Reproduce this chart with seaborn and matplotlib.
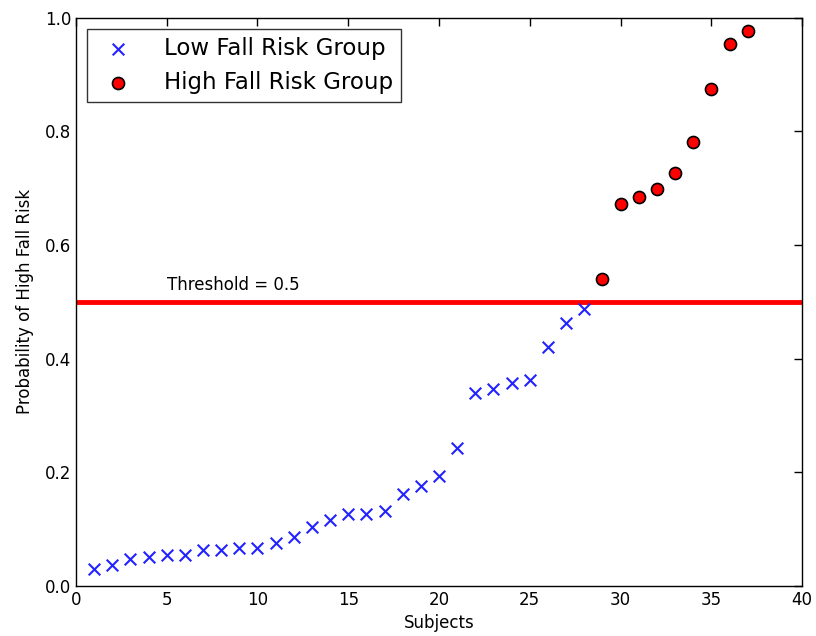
import numpy as np
import pandas as pd
import seaborn as sns
import matplotlib.pyplot as plt

# values
low_subj = list(range(1, 29))
low_prob = [0.030, 0.037, 0.047, 0.051, 0.054, 0.054, 0.063, 0.063, 0.067, 0.067,
            0.076, 0.086, 0.103, 0.115, 0.127, 0.127, 0.131, 0.162, 0.176, 0.194,
            0.243, 0.340, 0.347, 0.357, 0.362, 0.420, 0.462, 0.487]
high_subj = list(range(29, 38))
high_prob = [0.540, 0.672, 0.685, 0.699, 0.726, 0.781, 0.874, 0.954, 0.976]
threshold = 0.5

sns.set_style('white')
plt.rcParams['font.family'] = ['DejaVu Sans']
plt.rcParams['text.color'] = 'black'
plt.rcParams['axes.labelcolor'] = 'black'
plt.rcParams['xtick.color'] = 'black'
plt.rcParams['ytick.color'] = 'black'

fig = plt.figure(figsize=(8.16, 6.36), dpi=100)
ax = fig.add_axes([0.093, 0.079, 0.890, 0.893])

df_low = pd.DataFrame({'Subjects': low_subj, 'prob': low_prob})
df_high = pd.DataFrame({'Subjects': high_subj, 'prob': high_prob})

sns.scatterplot(data=df_low, x='Subjects', y='prob', marker='x', color='#2222ff',
                s=70, linewidth=1.5, label='Low Fall Risk Group', ax=ax, zorder=3)
sns.scatterplot(data=df_high, x='Subjects', y='prob', marker='o', color='red',
                edgecolor='black', linewidth=1.2, s=75, label='High Fall Risk Group',
                ax=ax, zorder=3)

ax.axhline(threshold, color='red', linewidth=3.5, zorder=2)
ax.text(5, threshold + 0.02, 'Threshold = 0.5', fontsize=12)

ax.set_xlim(0, 40)
ax.set_ylim(0, 1.0)
ax.set_xticks(np.arange(0, 41, 5))
ax.set_yticks(np.arange(0, 1.01, 0.2))
ax.set_xlabel('Subjects', fontsize=12)
ax.set_ylabel('Probability of High Fall Risk', fontsize=12, labelpad=8)
ax.tick_params(direction='in', top=True, right=True, labelsize=12, length=6, width=1)
for sp in ax.spines.values():
    sp.set_color('black')
    sp.set_linewidth(1)

leg = ax.legend(loc='upper left', fontsize=16.5, frameon=True, fancybox=False,
                borderpad=0.35, handletextpad=1.0, labelspacing=0.45, scatterpoints=1)
leg.get_frame().set_edgecolor('black')
leg.get_frame().set_linewidth(1)

fig.savefig('out.png', dpi=100)
